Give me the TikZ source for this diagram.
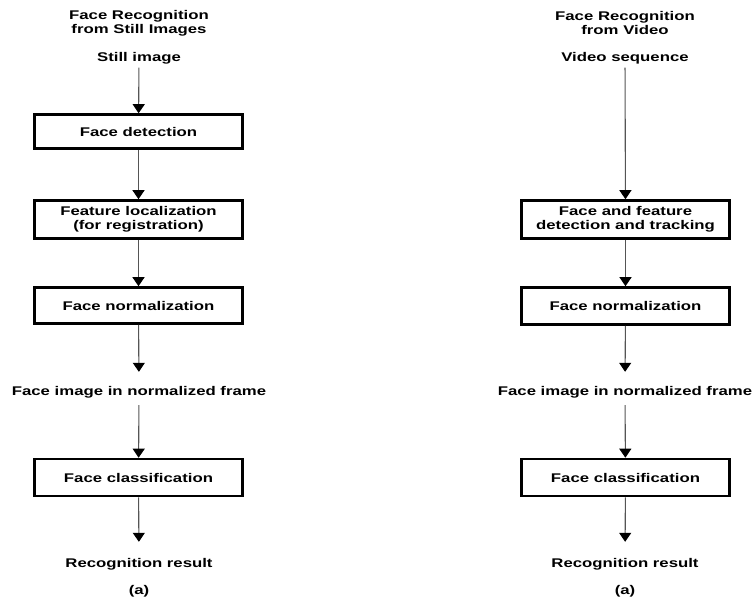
\documentclass[tikz,border=0pt]{standalone}
\usepackage{fontspec}
\setmainfont{Liberation Sans}[FakeStretch=1.33]
\usetikzlibrary{arrows.meta}
\definecolor{linegray}{RGB}{85,85,85}
\begin{document}
\begin{tikzpicture}[x=1pt,y=-1pt,
  font=\fontsize{12.6}{13.7}\selectfont\bfseries,
  box/.style={draw=black, line width=2.6pt, minimum width=208pt, inner sep=0pt, align=center},
  lbl/.style={inner sep=0pt, text height=9pt, text depth=0pt},
  ttl/.style={inner sep=0pt, align=center},
  arr/.style={draw=linegray, line width=1.1pt, -{Triangle[width=12pt,length=9pt,color=black,fill=black]}}
]
\useasboundingbox (0,0) rectangle (752,598);

% Left column
\node[ttl] (t1) at (139,23) {Face Recognition\\from Still Images};
\node[lbl] (s1) at (139,56.5) {Still image};
\node[box, minimum height=34pt] (b1) at (138.5,131.5) {Face detection};
\node[box, minimum height=38pt] (b2) at (138.5,219.5) {Feature localization\\(for registration)};
\node[box, minimum height=36pt] (b3) at (138.5,305.5) {Face normalization};
\node[lbl] (f1) at (139,391) {Face image in normalized frame};
\node[box, minimum height=37pt] (b4) at (138.5,477.5) {Face classification};
\node[lbl] (r1) at (139,562.5) {Recognition result};
\node[lbl] (a1) at (139,590) {(a)};

\draw[arr, shorten <=6.5pt] (s1) -- (b1);
\draw[arr] (b1) -- (b2);
\draw[arr] (b2) -- (b3);
\draw[arr, shorten >=14.5pt] (b3) -- (f1);
\draw[arr, shorten <=9.5pt] (f1) -- (b4);
\draw[arr, shorten >=16pt] (b4) -- (r1);

% Right column
\node[ttl] (t2) at (625,23) {Face Recognition\\from Video};
\node[lbl] (s2) at (625,56.5) {Video sequence};
\node[box, minimum height=38pt] (c1) at (625.5,219.5) {Face and feature\\detection and tracking};
\node[box, minimum height=37pt] (c2) at (625.5,306) {Face normalization};
\node[lbl] (f2) at (625,391) {Face image in normalized frame};
\node[box, minimum height=37pt] (c3) at (625.5,477.5) {Face classification};
\node[lbl] (r2) at (625,562.5) {Recognition result};
\node[lbl] (a2) at (625,590) {(a)};

\draw[arr, shorten <=6.5pt] (s2) -- (c1);
\draw[arr] (c1) -- (c2);
\draw[arr, shorten >=14.5pt] (c2) -- (f2);
\draw[arr, shorten <=9.5pt] (f2) -- (c3);
\draw[arr, shorten >=16pt] (c3) -- (r2);
\end{tikzpicture}
\end{document}
